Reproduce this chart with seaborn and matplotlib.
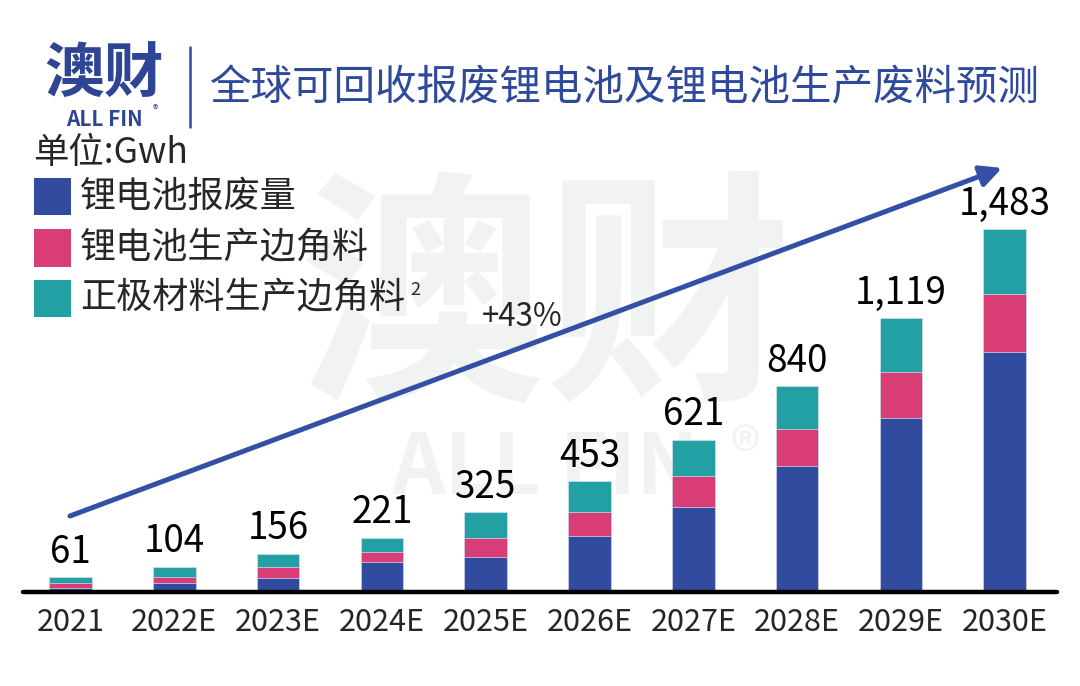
import matplotlib
matplotlib.use("Agg")
import matplotlib.pyplot as plt
import matplotlib.patches as mpatches
import pandas as pd
import seaborn as sns

# 数据 (单位: Gwh)
years = ["2021", "2022E", "2023E", "2024E", "2025E", "2026E", "2027E", "2028E", "2029E", "2030E"]
battery_scrap = [16, 37, 59, 122, 145, 229, 346, 516, 712, 980]
battery_offcut = [22, 23, 42, 43, 76, 96, 128, 149, 188, 239]
cathode_offcut = [23, 44, 55, 56, 104, 128, 147, 175, 219, 264]
series_names = ["锂电池报废量", "锂电池生产边角料", "正极材料生产边角料"]
colors = ["#314B9E", "#D93D75", "#22A0A3"]

BLUE = "#2F4A9C"
WM = "#f1f2f2"

sns.set_style("white")
plt.rcParams["font.family"] = ["Noto Sans CJK SC", "DejaVu Sans"]

df = pd.DataFrame({"year": years, "scrap": battery_scrap,
                   "offcut": battery_offcut, "cathode": cathode_offcut})
df["lvl1"] = df["scrap"]
df["lvl2"] = df["scrap"] + df["offcut"]
df["total"] = df["lvl2"] + df["cathode"]

fig = plt.figure(figsize=(10.8, 6.86), dpi=100)

# 背景水印
fig.text(0.505, 0.55, "澳财", fontsize=178, fontweight="bold", color=WM,
         ha="center", va="center", zorder=-5)
fig.text(0.505, 0.315, "ALL FIN", fontsize=60, fontweight="bold", color=WM,
         ha="center", va="center", zorder=-5)
fig.text(0.69, 0.335, "®", fontsize=44, color=WM, ha="center", va="center", zorder=-5)

ax = fig.add_axes([0.021, 0.137, 0.9574, 0.678])
ax.set_zorder(2)
ax.patch.set_alpha(0)

# 堆叠柱: 先画总高, 再叠画下层
for col, c in zip(["total", "lvl2", "lvl1"], colors[::-1]):
    sns.barplot(data=df, x="year", y=col, color=c, width=0.41, ax=ax,
                saturation=1, edgecolor="#d8def0", linewidth=0.5)

ax.bar_label(ax.containers[0], labels=[f"{v:,}" for v in df["total"]],
             padding=4, fontsize=26.5, color="black")

ax.set_xlim(-0.46, 9.5)
ax.set_ylim(0, 1900)
ax.set_xlabel("")
ax.set_ylabel("")
ax.set_yticks([])
ax.tick_params(axis="x", length=0, pad=11, labelsize=22)
for s in ax.spines.values():
    s.set_visible(False)
ax.axhline(0, color="black", lw=3.2, solid_capstyle="round", clip_on=False)

# 增长箭头
ax.annotate("", xy=(1002, 518), xytext=(70, 170), xycoords="figure pixels",
            textcoords="figure pixels",
            arrowprops=dict(arrowstyle="-|>", color="#3350A6", lw=3.6,
                            mutation_scale=32, capstyle="round", shrinkA=0, shrinkB=0))
fig.text(522 / 1080, 1 - 317 / 686, "+43%", fontsize=22.5, ha="center", va="center")

# 标志和标题
fig.text(104 / 1080, 1 - 76 / 686, "澳财", fontsize=43, fontweight="heavy", color="#2E4494",
         ha="center", va="center")
fig.text(104 / 1080, 1 - 120 / 686, "ALL FIN", fontsize=15, fontweight="bold", color="#2E4494",
         ha="center", va="center")
fig.text(155 / 1080, 1 - 110 / 686, "®", fontsize=8, color="#2E4494", ha="center", va="center")
fig.add_artist(plt.Line2D([190 / 1080, 190 / 1080], [1 - 47 / 686, 1 - 127 / 686],
                          color=BLUE, lw=1.8))
fig.text(210 / 1080, 1 - 89 / 686, "全球可回收报废锂电池及锂电池生产废料预测",
         fontsize=29.9, color=BLUE, ha="left", va="center")

# 单位与图例
fig.text(33 / 1080, 1 - 153 / 686, "单位:Gwh", fontsize=25.5, ha="left", va="center")
row_y = [197, 248, 298]
for name, c, y in zip(series_names, colors, row_y):
    fig.add_artist(mpatches.Rectangle((34 / 1080, 1 - (y + 18.5) / 686), 37 / 1080, 37 / 686,
                                      facecolor=c, edgecolor="none", transform=fig.transFigure))
    fig.text(80 / 1080, 1 - y / 686, name, fontsize=26, ha="left", va="center")
fig.text(410 / 1080, 1 - 290 / 686, "2", fontsize=13, ha="left", va="center")

fig.savefig("out.png", dpi=100)
